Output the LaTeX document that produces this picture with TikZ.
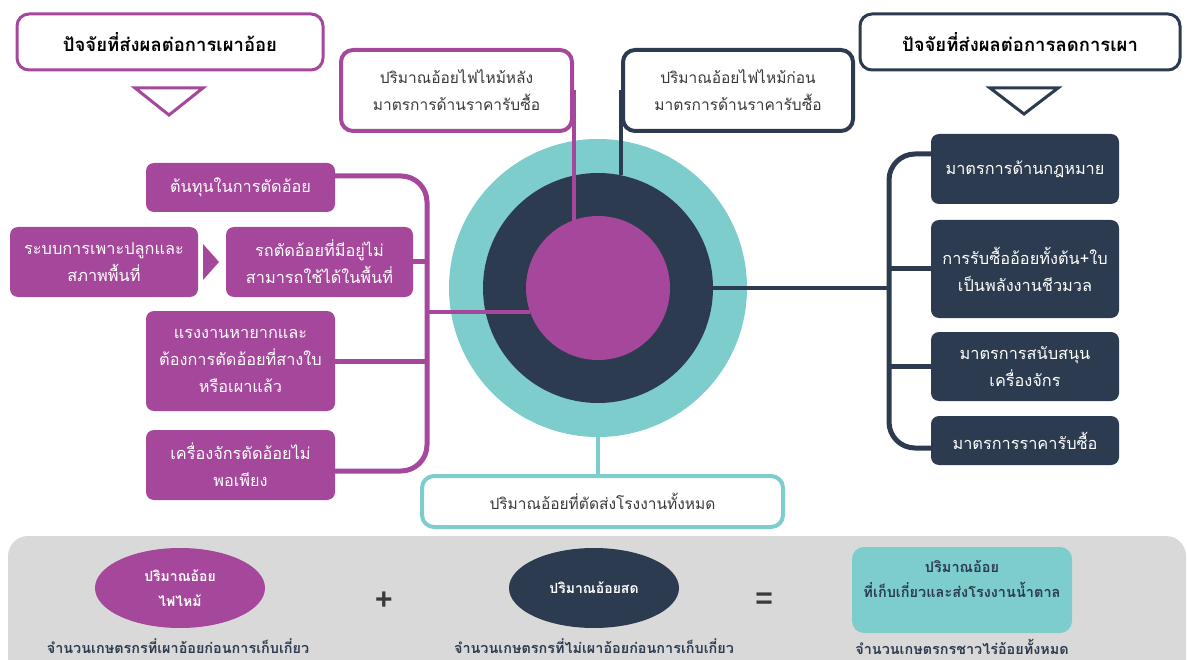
\documentclass[tikz,border=0pt]{standalone}
\usepackage{fontspec}
\setmainfont{Liberation Sans}
\newfontfamily\thai[Script=Thai]{Loma}
\usetikzlibrary{shapes.geometric}
\definecolor{cMag}{HTML}{A5479B}
\definecolor{cNavy}{HTML}{2C3B4F}
\definecolor{cTeal}{HTML}{7CCDCC}
\definecolor{cPanel}{HTML}{D9D9D9}
\definecolor{cTxt}{HTML}{3A3A3A}
\tikzset{
  magbox/.style={fill=cMag, rounded corners=8pt, text=white, align=center, inner sep=0pt,
    font=\thai\fontsize{16.3}{27}\selectfont},
  navybox/.style={fill=cNavy, rounded corners=8pt, text=white, align=center, inner sep=0pt,
    font=\thai\fontsize{16.3}{27}\selectfont},
  titlebox/.style={draw, line width=3pt, fill=white, rounded corners=12pt, align=center, inner sep=0pt,
    font=\thai\bfseries\fontsize{18.5}{22}\selectfont, text=black},
  topbox/.style={draw, line width=4pt, fill=white, rounded corners=12pt, align=center, inner sep=0pt,
    font=\thai\fontsize{15.5}{27}\selectfont, text=cTxt},
  busM/.style={draw=cMag, line width=5pt},
  busN/.style={draw=cNavy, line width=5pt},
  caption/.style={font=\thai\bfseries\fontsize{14.4}{18}\selectfont, text=cNavy},
  ellip/.style={ellipse, inner sep=0pt, minimum width=170pt, minimum height=80pt, text=white, align=center,
    font=\thai\bfseries\fontsize{14}{25}\selectfont},
}
\begin{document}
\begin{tikzpicture}[x=1pt,y=-1pt]
\useasboundingbox (0,0) rectangle (1188,660);
\clip (0,0) rectangle (1188,660);

% bottom panel
\fill[cPanel, rounded corners=20pt] (8,536) rectangle (1186,720);

% title boxes
\node[titlebox, draw=cMag, minimum width=306pt, minimum height=56pt] (T1) at (170,42) {ปัจจัยที่ส่งผลต่อการเผาอ้อย};
\node[titlebox, draw=cNavy, minimum width=320pt, minimum height=56pt] (T2) at (1020,42) {ปัจจัยที่ส่งผลต่อการลดการเผา};
\draw[cMag, line width=3pt, fill=white, line join=miter] (135,88) -- (203,88) -- (169,115) -- cycle;
\draw[cNavy, line width=3pt, fill=white, line join=miter] (990,88) -- (1058,88) -- (1024,114) -- cycle;

% circles
\node[circle, fill=cTeal, minimum size=298pt, inner sep=0pt] (outer) at (598,288) {};
\node[circle, fill=cNavy, minimum size=230pt, inner sep=0pt] (mid) at (598,288) {};
\node[circle, fill=cMag, minimum size=144pt, inner sep=0pt] (inner) at (598,288) {};

% top boxes
\node[topbox, draw=cMag, minimum width=231pt, minimum height=81pt] (TB1) at (456.5,90.5) {ปริมาณอ้อยไฟไหม้หลัง\\มาตรการด้านราคารับซื้อ};
\node[topbox, draw=cNavy, minimum width=230pt, minimum height=81pt] (TB2) at (738,90.5) {ปริมาณอ้อยไฟไหม้ก่อน\\มาตรการด้านราคารับซื้อ};
\draw[cMag, line width=4pt] (TB1.east) -- (TB1.east |- inner.111);
\draw[cNavy, line width=4pt] (TB2.west) -- (TB2.west |- mid.78);

% bottom box
\node[topbox, draw=cTeal, minimum width=361pt, minimum height=51pt] (B) at (602.5,501.5) {ปริมาณอ้อยที่ตัดส่งโรงงานทั้งหมด};
\draw[cTeal, line width=4pt] (outer.south) -- (outer.south |- B.north);

% left boxes
\node[magbox, minimum width=189pt, minimum height=49pt] (L1) at (240.5,187.5) {ต้นทุนในการตัดอ้อย};
\node[magbox, minimum width=188pt, minimum height=70pt] (L2) at (104,262) {ระบบการเพาะปลูกและ\\สภาพพื้นที่};
\node[magbox, minimum width=187pt, minimum height=70pt] (L3) at (319.5,262) {รถตัดอ้อยที่มีอยู่ไม่\\สามารถใช้ได้ในพื้นที่};
\node[magbox, minimum width=189pt, minimum height=100pt] (L4) at (240.5,361) {แรงงานหายากและ\\ต้องการตัดอ้อยที่สางใบ\\หรือเผาแล้ว};
\node[magbox, minimum width=189pt, minimum height=70pt] (L5) at (240.5,465) {เครื่องจักรตัดอ้อยไม่\\พอเพียง};
\fill[cMag] (203,244) -- (219,262) -- (203,280) -- cycle;

\coordinate (lt) at (427,176);
\coordinate (lb) at (427,471);
\draw[busM, rounded corners=26pt] (L1.east |- lt) -- (lt) -- (lb) -- (L5.east |- lb);
\draw[busM] (L3.east) -- (L3.east -| lt);
\draw[busM] (L4.east) -- (L4.east -| lt);
\draw[cMag, line width=4pt] (lt |- inner.199.5) -- (inner.199.5);

% right boxes
\node[navybox, minimum width=188pt, minimum height=70pt] (R1) at (1025,169) {มาตรการด้านกฎหมาย};
\node[navybox, minimum width=188pt, minimum height=98pt] (R2) at (1025,269) {การรับซื้ออ้อยทั้งต้น+ใบ\\เป็นพลังงานชีวมวล};
\node[navybox, minimum width=188pt, minimum height=69pt] (R3) at (1025,366.5) {มาตรการสนับสนุน\\เครื่องจักร};
\node[navybox, minimum width=188pt, minimum height=49pt] (R4) at (1025,440.5) {มาตรการราคารับซื้อ};

\coordinate (rt) at (889,154);
\coordinate (rb) at (889,448);
\draw[busN, rounded corners=26pt] (R1.west |- rt) -- (rt) -- (rb) -- (R4.west |- rb);
\draw[busN] (R2.west) -- (R2.west -| rt);
\draw[busN] (R3.west) -- (R3.west -| rt);
\draw[cNavy, line width=4pt] (mid.east) -- (mid.east -| rt);

% bottom equation
\node[ellip, fill=cMag] (E1) at (180,588) {ปริมาณอ้อย\\ไฟไหม้};
\node[ellip, fill=cNavy] (E2) at (594,588) {ปริมาณอ้อยสด};
\node[fill=cTeal, rounded corners=12pt, minimum width=220pt, minimum height=86pt, inner sep=0pt] (TT) at (962,590) {};
\node[font=\thai\bfseries\fontsize{14.5}{25}\selectfont, text=cNavy, align=center] (TTt) at (962,579) {ปริมาณอ้อย\\ที่เก็บเกี่ยวและส่งโรงงานน้ำตาล};
\node[font=\bfseries\fontsize{30}{30}\selectfont, text=cTxt] (plus) at (384,601) {+};
\node[font=\bfseries\fontsize{30}{30}\selectfont, text=cTxt] (eq) at (764,601) {=};
\node[caption] (C1) at (178,646) {จำนวนเกษตรกรที่เผาอ้อยก่อนการเก็บเกี่ยว};
\node[caption] (C2) at (594,646) {จำนวนเกษตรกรที่ไม่เผาอ้อยก่อนการเก็บเกี่ยว};
\node[caption] (C3) at (962,647) {จำนวนเกษตรกรชาวไร่อ้อยทั้งหมด};
\end{tikzpicture}
\end{document}
